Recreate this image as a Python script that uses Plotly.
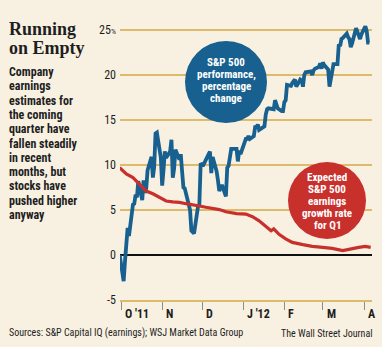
import plotly.graph_objects as go
from datetime import datetime

# ---------------- data ----------------
sp_dates = [
    "2011-09-30", "2011-10-03", "2011-10-04", "2011-10-05", "2011-10-06", "2011-10-07",
    "2011-10-10", "2011-10-11", "2011-10-12", "2011-10-13", "2011-10-14", "2011-10-17",
    "2011-10-18", "2011-10-19", "2011-10-20", "2011-10-21", "2011-10-24", "2011-10-25",
    "2011-10-26", "2011-10-27", "2011-10-28", "2011-10-31", "2011-11-01", "2011-11-02",
    "2011-11-03", "2011-11-04", "2011-11-07", "2011-11-08", "2011-11-09", "2011-11-10",
    "2011-11-11", "2011-11-14", "2011-11-15", "2011-11-16", "2011-11-17", "2011-11-18",
    "2011-11-21", "2011-11-22", "2011-11-23", "2011-11-25", "2011-11-28", "2011-11-29",
    "2011-11-30", "2011-12-01", "2011-12-02", "2011-12-05", "2011-12-06", "2011-12-07",
    "2011-12-08", "2011-12-09", "2011-12-12", "2011-12-13", "2011-12-14", "2011-12-15",
    "2011-12-16", "2011-12-19", "2011-12-20", "2011-12-21", "2011-12-22", "2011-12-23",
    "2011-12-27", "2011-12-28", "2011-12-29", "2011-12-30", "2012-01-03", "2012-01-04",
    "2012-01-05", "2012-01-06", "2012-01-09", "2012-01-10", "2012-01-11", "2012-01-12",
    "2012-01-13", "2012-01-17", "2012-01-18", "2012-01-19", "2012-01-20", "2012-01-23",
    "2012-01-24", "2012-01-25", "2012-01-26", "2012-01-27", "2012-01-30", "2012-01-31",
    "2012-02-01", "2012-02-02", "2012-02-03", "2012-02-06", "2012-02-07", "2012-02-08",
    "2012-02-09", "2012-02-10", "2012-02-13", "2012-02-14", "2012-02-15", "2012-02-16",
    "2012-02-17", "2012-02-21", "2012-02-22", "2012-02-23", "2012-02-24", "2012-02-27",
    "2012-02-28", "2012-02-29", "2012-03-01", "2012-03-02", "2012-03-05", "2012-03-06",
    "2012-03-07", "2012-03-08", "2012-03-09", "2012-03-12", "2012-03-13", "2012-03-14",
    "2012-03-15", "2012-03-16", "2012-03-19", "2012-03-20", "2012-03-21", "2012-03-22",
    "2012-03-23", "2012-03-26", "2012-03-27", "2012-03-28", "2012-03-29", "2012-03-30",
    "2012-04-02", "2012-04-03", "2012-04-04", "2012-04-05",
]
sp_change = [
    0.0, -2.9, -0.7, 1.1, 3.0, 2.1,
    5.6, 5.7, 6.7, 6.4, 8.2, 6.1,
    8.3, 6.9, 7.4, 9.4, 10.9, 8.6,
    9.8, 13.5, 13.6, 10.8, 7.7, 9.4,
    11.5, 10.8, 11.5, 12.8, 8.6, 9.6,
    11.7, 10.6, 11.2, 9.3, 7.5, 7.4,
    5.4, 5.0, 2.7, 2.4, 5.4, 5.6,
    10.2, 10.0, 10.0, 11.1, 11.2, 11.5,
    9.1, 10.9, 9.3, 8.3, 7.1, 7.5,
    7.8, 6.5, 9.7, 9.9, 10.8, 11.8,
    11.8, 10.4, 11.6, 11.2, 12.9, 12.9,
    13.2, 12.9, 13.2, 14.2, 14.2, 14.5,
    13.9, 14.3, 15.6, 16.2, 16.3, 16.3,
    16.2, 17.2, 16.5, 16.3, 16.0, 16.0,
    17.0, 17.2, 18.9, 18.8, 19.1, 19.3,
    19.5, 18.7, 19.5, 19.4, 18.7, 20.0,
    20.3, 20.4, 20.0, 20.5, 20.7, 20.9,
    21.3, 20.7, 21.4, 21.1, 20.6, 18.7,
    19.5, 20.7, 21.2, 21.2, 23.4, 23.2,
    24.0, 24.1, 24.6, 24.2, 24.0, 23.1,
    23.5, 25.2, 24.8, 24.2, 24.0, 24.5,
    25.4, 24.9, 23.6, 23.6,
]

eps_dates = [
    "2011-09-30", "2011-10-05", "2011-10-10", "2011-10-15", "2011-10-20", "2011-10-25",
    "2011-10-30", "2011-11-04", "2011-11-09", "2011-11-14", "2011-11-19", "2011-11-24",
    "2011-11-29", "2011-12-04", "2011-12-09", "2011-12-14", "2011-12-19", "2011-12-27",
    "2012-01-03", "2012-01-08", "2012-01-13", "2012-01-18", "2012-01-22", "2012-01-24",
    "2012-01-28", "2012-02-02", "2012-02-07", "2012-02-15", "2012-02-22", "2012-03-01",
    "2012-03-08", "2012-03-16", "2012-03-18", "2012-03-23", "2012-03-28", "2012-04-02",
    "2012-04-06",
]
eps_growth = [
    9.7, 9.0, 8.6, 7.9, 7.1, 6.8,
    6.4, 6.0, 5.9, 5.85, 5.7, 5.6,
    5.45, 5.3, 5.2, 5.05, 4.8, 4.6,
    4.55, 4.25, 3.8, 3.25, 2.7, 2.9,
    2.3, 1.8, 1.4, 1.15, 0.96, 0.85,
    0.74, 0.48, 0.55, 0.74, 0.85, 0.96,
    0.85,
]

y_ticks = [-5, 0, 5, 10, 15, 20, 25]
y_labels = ["-5", "0", "5", "10", "15", "20", "25<span style='font-size:8px'>%</span>"]
month_ticks = ["2011-10-01", "2011-11-01", "2011-12-01", "2012-01-01",
               "2012-02-01", "2012-03-01", "2012-04-01"]
month_labels = ["O '11", "N", "D", "J '12", "F", "M", "A"]

title_lines = ["Running", "on Empty"]
body_lines = ["Company", "earnings", "estimates for", "the coming", "quarter have",
              "fallen steadily", "in recent", "months, but", "stocks have",
              "pushed higher", "anyway"]
blue_label = ["S&P 500", "performance,", "percentage", "change"]
red_label = ["Expected", "S&P 500", "earnings", "growth rate", "for Q1"]
source_text = "Sources: S&P Capital IQ (earnings); WSJ Market Data Group"
credit_text = "The Wall Street Journal"

# ---------------- style ----------------
W, H = 382, 347
L, R, T, B = 120, 10, 6, 47
BG = "#f8f1e2"
GOLD = "#dcbb6a"
BLUE = "#17608f"
RED = "#c8302c"
INK = "#1e1e1e"
NARROW = "Roboto Condensed, Roboto, sans-serif"
SERIF = "Liberation Serif, DejaVu Serif, serif"

x_start = datetime(2011, 9, 30, 6, 0)
x_end = datetime(2012, 4, 7, 0, 0)

pw, ph = W - L - R, H - T - B


def px(x):
    return (x - L) / pw


def py(y):
    return (H - B - y) / ph


fig = go.Figure()
fig.add_trace(go.Scatter(x=sp_dates, y=sp_change, mode="lines",
                         line=dict(color=BLUE, width=3.8), hoverinfo="skip"))
fig.add_trace(go.Scatter(x=eps_dates, y=eps_growth, mode="lines",
                         line=dict(color=RED, width=3.2), hoverinfo="skip"))

shapes = [
    dict(type="circle", xref="paper", yref="paper",
         x0=px(185), x1=px(267), y0=py(123), y1=py(41),
         fillcolor=BLUE, line=dict(width=0), layer="above"),
    dict(type="circle", xref="paper", yref="paper",
         x0=px(288), x1=px(366), y0=py(239), y1=py(162),
         fillcolor=RED, line=dict(width=0), layer="above"),
]

ann = []
for i, t in enumerate(title_lines):
    ann.append(dict(text="<b>%s</b>" % t, x=px(7), y=py(29 + i * 19),
                    xref="paper", yref="paper", xanchor="left", yanchor="middle",
                    showarrow=False, font=dict(family=SERIF, size=18, color=INK)))
for i, t in enumerate(body_lines):
    ann.append(dict(text="<b>%s</b>" % t, x=px(7), y=py(72 + i * 14.3),
                    xref="paper", yref="paper", xanchor="left", yanchor="middle",
                    showarrow=False, font=dict(family=NARROW, size=12, color=INK)))
for i, t in enumerate(blue_label):
    ann.append(dict(text="<b>%s</b>" % t, x=px(226), y=py(62 + i * 12.3),
                    xref="paper", yref="paper", xanchor="center", yanchor="middle",
                    showarrow=False, font=dict(family=NARROW, size=11, color="white")))
for i, t in enumerate(red_label):
    ann.append(dict(text="<b>%s</b>" % t, x=px(327), y=py(177 + i * 12.1),
                    xref="paper", yref="paper", xanchor="center", yanchor="middle",
                    showarrow=False, font=dict(family=NARROW, size=11, color="white")))
for d, t in zip(month_ticks, month_labels):
    ann.append(dict(text="<b>%s</b>" % t, x=d, y=0, xref="x", yref="paper",
                    xanchor="left", yanchor="middle", xshift=2, yshift=-14,
                    showarrow=False, font=dict(family=NARROW, size=12, color=INK)))
ann.append(dict(text=source_text, x=px(7), y=py(333), xref="paper", yref="paper",
                xanchor="left", yanchor="middle", showarrow=False,
                font=dict(family=NARROW, size=10, color=INK)))
ann.append(dict(text=credit_text, x=px(375), y=py(333), xref="paper", yref="paper",
                xanchor="right", yanchor="middle", showarrow=False,
                font=dict(family=NARROW, size=10, color=INK)))

fig.update_layout(
    width=W, height=H, margin=dict(l=L, r=R, t=T, b=B),
    paper_bgcolor=BG, plot_bgcolor=BG, showlegend=False,
    shapes=shapes, annotations=ann,
    xaxis=dict(type="date", range=[x_start, x_end], tickvals=month_ticks,
               showticklabels=False, ticks="outside", ticklen=8, tickwidth=1,
               tickcolor="#8c8c8c", showgrid=False, zeroline=False,
               showline=True, linecolor=GOLD, linewidth=2, fixedrange=True),
    yaxis=dict(range=[-5, -5 + ph / 9.0], tickvals=y_ticks, ticktext=y_labels,
               showgrid=True, gridcolor=GOLD, gridwidth=1.6,
               zeroline=True, zerolinecolor="#111111", zerolinewidth=1.6,
               ticks="", ticklabelstandoff=3, showline=False,
               tickfont=dict(family=NARROW, size=12, color=INK), fixedrange=True),
)

fig.write_html("out.html", config={"displayModeBar": False})
